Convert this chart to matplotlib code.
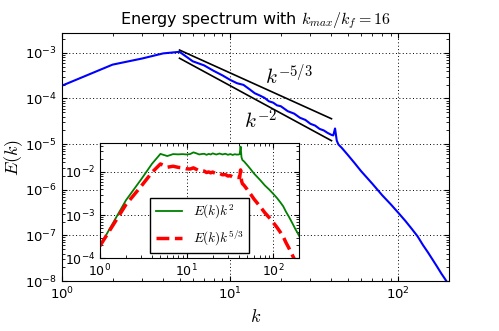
import numpy as np
import matplotlib
matplotlib.use('Agg')
import matplotlib.pyplot as plt

plt.rcParams['mathtext.fontset'] = 'cm'
plt.rcParams['xtick.direction'] = 'in'
plt.rcParams['ytick.direction'] = 'in'
plt.rcParams['xtick.top'] = True
plt.rcParams['ytick.right'] = True

# energy spectrum
k = np.array([1, 2, 3, 4, 5, 6, 7, 8, 9, 10, 11, 12, 13, 14, 15, 16, 17, 18, 19, 20,
              22, 24, 26, 28, 30, 32, 34, 36, 38, 40, 41, 42, 43, 44, 46, 50, 55, 60,
              70, 80, 90, 100, 110, 120, 130, 140, 150, 160, 170, 180, 190, 200])
E = np.array([1.9e-4, 5.5e-4, 7.5e-4, 9.7e-4, 1.05e-3, 6.5e-4, 5.3e-4, 4.0e-4, 3.2e-4, 2.55e-4,
              2.15e-4, 1.98e-4, 1.6e-4, 1.3e-4, 1.16e-4, 1.03e-4, 8.65e-5, 8.1e-5, 7.05e-5, 6.75e-5,
              5.25e-5, 4.65e-5, 3.77e-5, 3.38e-5, 2.78e-5, 2.54e-5, 2.15e-5, 1.99e-5, 1.75e-5, 1.59e-5,
              1.55e-5, 2.2e-5, 1.19e-5, 9.8e-6, 8.3e-6, 5.8e-6, 3.8e-6, 2.55e-6,
              1.35e-6, 7.6e-7, 4.8e-7, 3.1e-7, 2.07e-7, 1.39e-7, 9.5e-8, 6.1e-8, 4.2e-8, 2.9e-8,
              2.04e-8, 1.45e-8, 1.08e-8, 8e-9])

# reference power laws between k=5 and k=40
k_ref = np.array([5, 40])
c53 = 0.0168
c2 = 0.019

grid_style = dict(color='black', linestyle=(0, (1, 2.5)), lw=0.7)

fig = plt.figure(figsize=(4.99, 3.31), dpi=100)
ax = fig.add_axes([0.124, 0.151, 0.776, 0.749])
ax.loglog(k, E, color='blue', lw=1.5)
ax.loglog(k_ref, c53 * k_ref ** (-5.0 / 3), color='black', lw=1.2)
ax.loglog(k_ref, c2 * k_ref ** (-2.0), color='black', lw=1.2)
ax.text(16, 2.0e-4, r'$k^{-5/3}$', fontsize=15)
ax.text(12.1, 2.2e-5, r'$k^{-2}$', fontsize=15)
ax.set_xlim(1, 200)
ax.set_ylim(1e-8, 2.7e-3)
ax.grid(True, which='major', **grid_style)
ax.tick_params(labelsize=9.5)
ax.set_xlabel(r'$k$', fontsize=13)
ax.set_ylabel(r'$E(k)$', fontsize=13)
ax.yaxis.set_label_coords(-0.095, 0.5)
ax.set_title(r'Energy spectrum with $k_{max}/k_f=16$', fontsize=11.5)

ins = fig.add_axes([0.2, 0.22, 0.4, 0.348])
ins.loglog(k, E * k ** 2, color='green', lw=1.3, label=r'$E(k)k^2$')
ins.loglog(k, E * k ** (5.0 / 3), color='red', lw=2.5, ls='--', label=r'$E(k)k^{5/3}$')
ins.set_xlim(1, 200)
ins.set_ylim(1e-4, 0.047)
ins.grid(True, which='major', **grid_style)
ins.tick_params(labelsize=9)
leg = ins.legend(loc='lower center', fontsize=9.5, fancybox=False, framealpha=1,
                 edgecolor='black', borderaxespad=0.4)

fig.savefig('out.png', dpi=100)
